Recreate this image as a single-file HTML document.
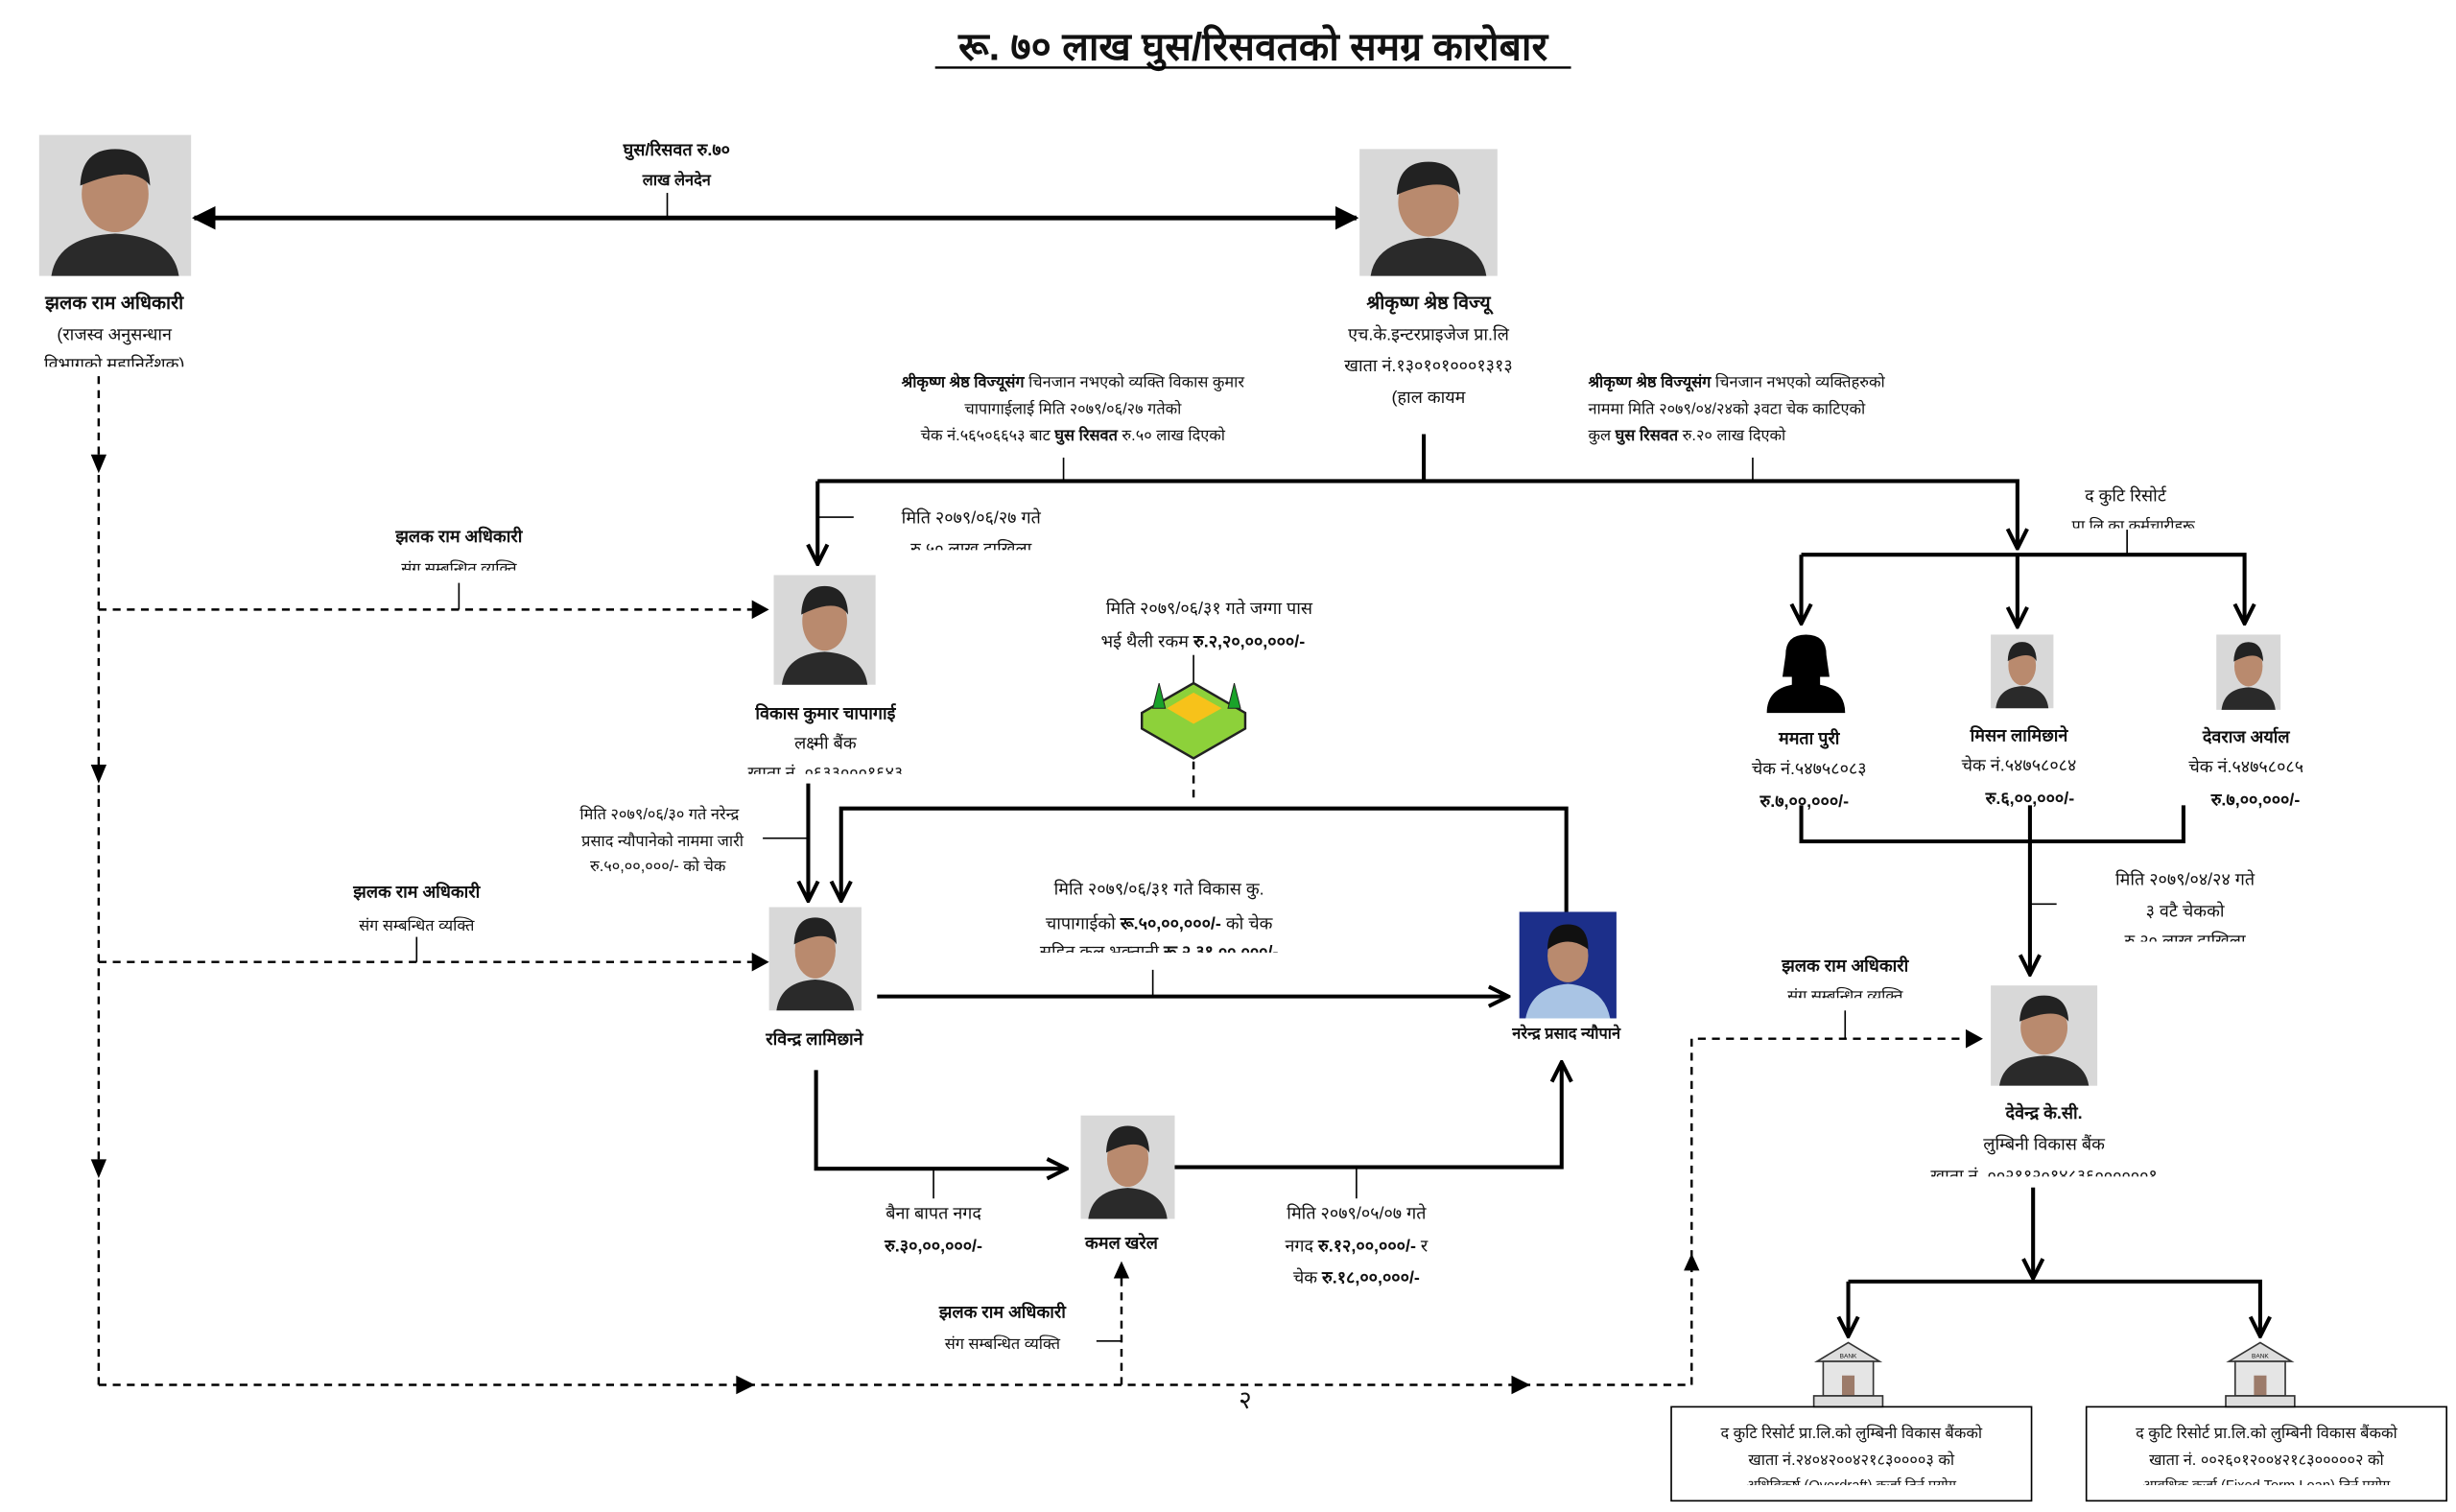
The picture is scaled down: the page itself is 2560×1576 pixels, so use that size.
<!DOCTYPE html>
<html><head><meta charset="utf-8"><style>
html,body{margin:0;padding:0;background:#fff}
svg{display:block}
text{font-family:"Liberation Sans","Noto Sans CJK SC",sans-serif;fill:#111}
.b{font-weight:bold}
</style></head><body>
<svg width="2560" height="1576" viewBox="0 0 1568 965" xmlns="http://www.w3.org/2000/svg">
<defs>
<marker id="a" viewBox="0 0 10 10" refX="9" refY="5" markerWidth="5" markerHeight="5" orient="auto-start-reverse"><path d="M0,0 L10,5 L0,10 z" fill="#000"/></marker>
<marker id="o" viewBox="0 0 12 12" refX="11" refY="6" markerWidth="6" markerHeight="6" orient="auto"><path d="M1,1 L11,6 L1,11" fill="none" stroke="#000" stroke-width="2"/></marker>
<g id="face"><rect x="0" y="0" width="100" height="100" fill="#d8d8d8"/><ellipse cx="50" cy="42" rx="22" ry="27" fill="#b98a6e"/><path d="M27,36 Q28,10 50,10 Q72,10 73,36 Q62,20 27,36z" fill="#222"/><path d="M8,100 Q12,72 50,70 Q88,72 92,100z" fill="#2a2a2a"/></g>
</defs>

<text x="800" y="38" font-size="25" class="b" text-anchor="middle">रू. ७० लाख घुस/रिसवतको समग्र कारोबार</text>
<line x1="597" y1="43" x2="1003" y2="43" stroke="#000" stroke-width="1.5"/>

<g font-size="11" text-anchor="middle">
<use href="#face" transform="translate(25,86) scale(0.97,0.9)"/>
<text x="73" y="197" class="b" font-size="12">झलक राम अधिकारी</text>
<text x="73" y="217">(राजस्व अनुसन्धान</text>
<text x="73" y="236">विभागको महानिर्देशक)</text>
<rect x="10" y="234" width="130" height="8" fill="#fff"/>

<line x1="124" y1="139" x2="866" y2="139" stroke="#000" stroke-width="3" marker-start="url(#a)" marker-end="url(#a)"/>
<text x="432" y="99" class="b">घुस/रिसवत रु.७०</text>
<text x="432" y="118" class="b" font-size="10">लाख लेनदेन</text>
<line x1="426" y1="123" x2="426" y2="139" stroke="#000"/>

<use href="#face" transform="translate(868,95) scale(0.88,0.81)"/>
<text x="912" y="197" class="b" font-size="12">श्रीकृष्ण श्रेष्ठ विज्यू</text>
<text x="912" y="217">एच.के.इन्टरप्राइजेज प्रा.लि</text>
<text x="912" y="237">खाता नं.१३०१०१०००१३१३</text>
<text x="912" y="257">(हाल कायम</text>

<line x1="909" y1="277" x2="909" y2="307" stroke="#000" stroke-width="2.5"/>
<polyline points="522,307 1288,307 1288,350" fill="none" stroke="#000" stroke-width="2.5" marker-end="url(#o)"/>
<line x1="522" y1="307" x2="522" y2="360" stroke="#000" stroke-width="2.5" marker-end="url(#o)"/>

<text x="685" y="247" font-size="10"><tspan class="b">श्रीकृष्ण श्रेष्ठ विज्यूसंग</tspan> चिनजान नभएको व्यक्ति विकास कुमार</text>
<text x="685" y="264" font-size="10">चापागाईलाई मिति २०७९/०६/२७ गतेको</text>
<text x="685" y="281" font-size="10">चेक नं.५६५०६६५३ बाट <tspan class="b">घुस रिसवत</tspan> रु.५० लाख दिएको</text>
<line x1="679" y1="292" x2="679" y2="307" stroke="#000"/>
<text x="1014" y="247" font-size="10" text-anchor="start"><tspan class="b">श्रीकृष्ण श्रेष्ठ विज्यूसंग</tspan> चिनजान नभएको व्यक्तिहरुको</text>
<text x="1014" y="264" font-size="10" text-anchor="start">नाममा मिति २०७९/०४/२४को ३वटा चेक काटिएको</text>
<text x="1014" y="281" font-size="10" text-anchor="start">कुल <tspan class="b">घुस रिसवत</tspan> रु.२० लाख दिएको</text>
<line x1="1119" y1="292" x2="1119" y2="307" stroke="#000"/>

<text x="620" y="334" font-size="11">मिति २०७९/०६/२७ गते</text>
<text x="620" y="354" font-size="11">रु.५० लाख दाखिला</text>
<rect x="540" y="351" width="160" height="8" fill="#fff"/>
<line x1="522" y1="330" x2="545" y2="330" stroke="#000"/>

<g stroke="#000" stroke-width="1.5" stroke-dasharray="5,4" fill="none">
<line x1="63" y1="240" x2="63" y2="885"/>
<line x1="63" y1="389" x2="488" y2="389"/>
<line x1="63" y1="614" x2="488" y2="614"/>
<polyline points="63,884 1080,884 1080,663 1262,663"/>
<line x1="716" y1="884" x2="716" y2="808"/>
<line x1="762" y1="486" x2="762" y2="512"/>
</g>
<g fill="#000">
<path d="M58,290 L68,290 L63,302z"/><path d="M58,488 L68,488 L63,500z"/><path d="M58,740 L68,740 L63,752z"/>
<path d="M480,383 L491,389 L480,395z"/><path d="M480,608 L491,614 L480,620z"/>
<path d="M470,878 L482,884 L470,890z"/><path d="M965,878 L977,884 L965,890z"/>
<path d="M1255,657 L1266,663 L1255,669z"/>
<path d="M711,816 L721,816 L716,805z"/><path d="M1075,811 L1085,811 L1080,800z"/>
</g>
<text x="293" y="346" class="b">झलक राम अधिकारी</text>
<text x="293" y="366" font-size="10">संग सम्बन्धित व्यक्ति</text>
<rect x="230" y="364" width="130" height="6" fill="#fff"/>
<line x1="293" y1="372" x2="293" y2="389" stroke="#000"/>

<use href="#face" transform="translate(494,367) scale(0.65,0.7)"/>
<text x="527" y="459" class="b">विकास कुमार चापागाई</text>
<text x="527" y="478">लक्ष्मी बैंक</text>
<text x="527" y="497">खाता नं. ०६३३०००१६४३</text>
<rect x="440" y="494" width="170" height="8" fill="#fff"/>

<text x="772" y="392">मिति २०७९/०६/३१ गते जग्गा पास</text>
<text x="768" y="413">भई थैली रकम <tspan class="b">रु.२,२०,००,०००/-</tspan></text>
<line x1="762" y1="418" x2="762" y2="436" stroke="#000"/>
<path d="M729,455 L762,436 L795,455 L795,465 L762,484 L729,465z" fill="#8dd13a" stroke="#222" stroke-width="1.5"/>
<path d="M745,452 L762,442 L780,452 L762,462z" fill="#f7c21a"/>
<path d="M736,452 l4,-16 l4,16z M784,452 l4,-16 l4,16z" fill="#1aa32a" stroke="#222" stroke-width="0.6"/>

<line x1="516" y1="500" x2="516" y2="575" stroke="#000" stroke-width="2.5" marker-end="url(#o)"/>
<line x1="487" y1="535" x2="516" y2="535" stroke="#000"/>
<polyline points="1000,642 1000,516 537,516 537,575" fill="none" stroke="#000" stroke-width="2.5" marker-end="url(#o)"/>
<text x="421" y="523" font-size="10">मिति २०७९/०६/३० गते नरेन्द्र</text>
<text x="423" y="540" font-size="10">प्रसाद न्यौपानेको नाममा जारी</text>
<text x="420" y="556" font-size="10">रु.५०,००,०००/- को चेक</text>
<use href="#face" transform="translate(491,579) scale(0.59,0.66)"/>
<text x="520" y="667" class="b">रविन्द्र लामिछाने</text>
<text x="266" y="573" class="b">झलक राम अधिकारी</text>
<text x="266" y="594" font-size="10">संग सम्बन्धित व्यक्ति</text>
<line x1="266" y1="598" x2="266" y2="614" stroke="#000"/>

<line x1="560" y1="636" x2="963" y2="636" stroke="#000" stroke-width="2.5" marker-end="url(#o)"/>
<text x="740" y="571">मिति २०७९/०६/३१ गते विकास कु.</text>
<text x="740" y="593">चापागाईको <tspan class="b">रू.५०,००,०००/-</tspan> को चेक</text>
<text x="740" y="611">सहित कुल भुक्तानी <tspan class="b">रू.२,३१,००,०००/-</tspan></text>
<rect x="620" y="608" width="240" height="8" fill="#fff"/>
<line x1="736" y1="619" x2="736" y2="636" stroke="#000"/>

<rect x="970" y="582" width="62" height="68" fill="#1c2f8a"/>
<ellipse cx="1001" cy="610" rx="13" ry="17" fill="#b98a6e"/>
<path d="M988,606 Q988,590 1001,590 Q1014,590 1014,606 Q1001,596 988,606z" fill="#111"/>
<path d="M974,650 Q978,630 1001,628 Q1024,630 1028,650z" fill="#a9c4e4"/>
<text x="1000" y="663" class="b" font-size="10">नरेन्द्र प्रसाद न्यौपाने</text>

<polyline points="521,683 521,746 681,746" fill="none" stroke="#000" stroke-width="2.5" marker-end="url(#o)"/>
<line x1="596" y1="746" x2="596" y2="765" stroke="#000"/>
<text x="596" y="778">बैना बापत नगद</text>
<text x="596" y="799" class="b">रु.३०,००,०००/-</text>
<use href="#face" transform="translate(690,712) scale(0.6,0.66)"/>
<text x="716" y="797" class="b">कमल खरेल</text>
<polyline points="750,745 997,745 997,678" fill="none" stroke="#000" stroke-width="2.5" marker-end="url(#o)"/>
<line x1="866" y1="746" x2="866" y2="765" stroke="#000"/>
<text x="866" y="778">मिति २०७९/०५/०७ गते</text>
<text x="866" y="799">नगद <tspan class="b">रु.१२,००,०००/-</tspan> र</text>
<text x="866" y="819">चेक <tspan class="b">रु.१८,००,०००/-</tspan></text>
<text x="640" y="841" class="b">झलक राम अधिकारी</text>
<text x="640" y="861" font-size="10">संग सम्बन्धित व्यक्ति</text>
<line x1="700" y1="856" x2="716" y2="856" stroke="#000"/>
<text x="795" y="899" font-size="16">२</text>

<text x="1357" y="320">द कुटि रिसोर्ट</text>
<text x="1362" y="339" font-size="10">प्रा.लि.का कर्मचारीहरू</text>
<rect x="1300" y="337" width="130" height="6" fill="#fff"/>
<line x1="1358" y1="338" x2="1358" y2="354" stroke="#000"/>
<polyline points="1150,354 1433,354 1433,398" fill="none" stroke="#000" stroke-width="2.5" marker-end="url(#o)"/>
<line x1="1150" y1="354" x2="1150" y2="398" stroke="#000" stroke-width="2.5" marker-end="url(#o)"/>
<line x1="1288" y1="354" x2="1288" y2="400" stroke="#000" stroke-width="2.5" marker-end="url(#o)"/>
<path d="M1140,418 Q1140,405 1153,405 Q1166,405 1166,418 L1168,432 L1162,432 L1162,437 Q1178,440 1178,455 L1128,455 Q1128,440 1144,437 L1144,432 L1138,432z" fill="#000"/>
<use href="#face" transform="translate(1271,405) scale(0.4,0.47)"/>
<use href="#face" transform="translate(1415,405) scale(0.41,0.48)"/>
<text x="1155" y="475" class="b">ममता पुरी</text>
<text x="1289" y="473" class="b">मिसन लामिछाने</text>
<text x="1434" y="474" class="b">देवराज अर्याल</text>
<text x="1155" y="494">चेक नं.५४७५८०८३</text>
<text x="1289" y="492">चेक नं.५४७५८०८४</text>
<text x="1434" y="493">चेक नं.५४७५८०८५</text>
<text x="1152" y="515" class="b">रु.७,००,०००/-</text>
<text x="1296" y="513" class="b">रु.६,००,०००/-</text>
<text x="1440" y="514" class="b">रु.७,००,०००/-</text>
<polyline points="1150,514 1150,537 1394,537 1394,514" fill="none" stroke="#000" stroke-width="2.5"/>
<line x1="1296" y1="514" x2="1296" y2="622" stroke="#000" stroke-width="2.5" marker-end="url(#o)"/>
<line x1="1296" y1="577" x2="1313" y2="577" stroke="#000"/>
<text x="1395" y="565">मिति २०७९/०४/२४ गते</text>
<text x="1395" y="585">३ वटै चेकको</text>
<text x="1395" y="604">रु.२० लाख दाखिला</text>
<rect x="1330" y="601" width="130" height="8" fill="#fff"/>
<text x="1178" y="620" class="b">झलक राम अधिकारी</text>
<text x="1178" y="639" font-size="10">संग सम्बन्धित व्यक्ति</text>
<rect x="1110" y="637" width="130" height="6" fill="#fff"/>
<line x1="1178" y1="645" x2="1178" y2="663" stroke="#000"/>

<use href="#face" transform="translate(1271,629) scale(0.68,0.64)"/>
<text x="1305" y="714" class="b">देवेन्द्र के.सी.</text>
<text x="1305" y="734">लुम्बिनी विकास बैंक</text>
<text x="1305" y="754">खाता नं. ००२११२०१४८३६००००००१</text>
<rect x="1200" y="751" width="220" height="8" fill="#fff"/>
<line x1="1298" y1="758" x2="1298" y2="816" stroke="#000" stroke-width="2.5" marker-end="url(#o)"/>
<polyline points="1180,818 1443,818 1443,853" fill="none" stroke="#000" stroke-width="2.5" marker-end="url(#o)"/>
<line x1="1180" y1="818" x2="1180" y2="853" stroke="#000" stroke-width="2.5" marker-end="url(#o)"/>

<g id="bank"><path d="M1160,869 L1180,857 L1200,869z" fill="#ddd" stroke="#333"/><rect x="1164" y="869" width="32" height="22" fill="#e5e5e5" stroke="#333"/><rect x="1176" y="878" width="8" height="13" fill="#9c7b6a"/><rect x="1158" y="891" width="44" height="7" fill="#ddd" stroke="#333"/><text x="1180" y="867" font-size="4">BANK</text></g>
<use href="#bank" transform="translate(263,0)"/>

<rect x="1067" y="898" width="230" height="60" fill="none" stroke="#000"/>
<rect x="1332" y="898" width="230" height="60" fill="none" stroke="#000"/>
<text x="1182" y="918" font-size="10">द कुटि रिसोर्ट प्रा.लि.को लुम्बिनी विकास बैंकको</text>
<text x="1182" y="935" font-size="10">खाता नं.२४०४२००४२१८३००००३ को</text>
<text x="1182" y="951" font-size="9">अधिविकर्ष (Overdraft) कर्जा तिर्न प्रयोग</text>
<text x="1447" y="918" font-size="10">द कुटि रिसोर्ट प्रा.लि.को लुम्बिनी विकास बैंकको</text>
<text x="1447" y="935" font-size="10">खाता नं. ००२६०१२००४२१८३०००००२ को</text>
<text x="1447" y="951" font-size="9">आवधिक कर्जा (Fixed Term Loan) तिर्न प्रयोग</text>
<rect x="1070" y="948" width="224" height="8" fill="#fff"/>
<rect x="1335" y="948" width="224" height="8" fill="#fff"/>
</g>
</svg>
</body></html>
